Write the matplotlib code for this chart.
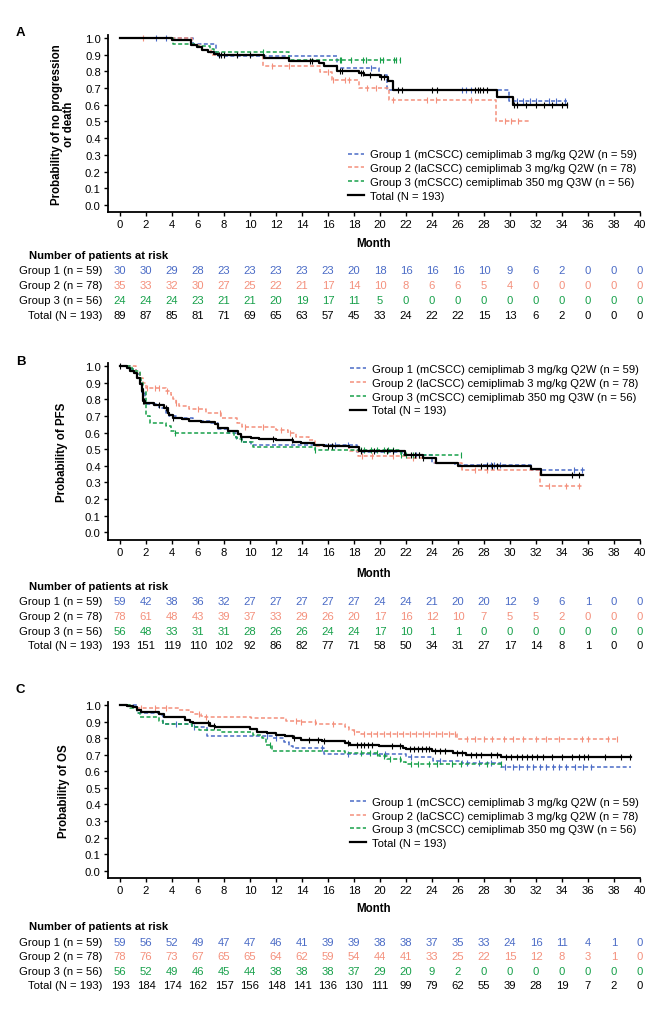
import numpy as np
import matplotlib
matplotlib.use("Agg")
import matplotlib.pyplot as plt
from matplotlib.transforms import blended_transform_factory
from matplotlib.lines import Line2D

plt.rcParams['font.family'] = ['Liberation Sans', 'DejaVu Sans']

W, H = 661, 1012
BLUE, RED, GREEN, BLACK = '#4a6bc6', '#f4907c', '#17a04a', '#000000'

months = list(range(0, 41, 2))
group_labels = ['Group 1 (n = 59)', 'Group 2 (n = 78)', 'Group 3 (n = 56)', 'Total (N = 193)']
legend_labels = ['Group 1 (mCSCC) cemiplimab 3 mg/kg Q2W (n = 59)',
                 'Group 2 (laCSCC) cemiplimab 3 mg/kg Q2W (n = 78)',
                 'Group 3 (mCSCC) cemiplimab 350 mg Q3W (n = 56)',
                 'Total (N = 193)']

# ---------------- Panel A: step times / survival / end / censor ----------------
a_g1_t = [5.6, 7.4, 16.7, 19.9, 20.5, 29.9]
a_g1_s = [0.964, 0.894, 0.818, 0.78, 0.69, 0.62]
a_g1_end = 34.4
a_g1_c = [2.8, 3.5, 19.3, 26.3, 26.6, 27.0, 30.2, 30.5, 31.0, 31.5, 32.0, 33.0, 33.5, 34.2]

a_g2_t = [5.5, 6.3, 7.0, 11.0, 15.4, 16.3, 18.4, 20.7, 28.9]
a_g2_s = [0.96, 0.93, 0.90, 0.834, 0.795, 0.75, 0.70, 0.627, 0.50]
a_g2_end = 31.5
a_g2_c = [1.8, 11.7, 13.0, 16.0, 16.4, 17.3, 17.6, 19.0, 19.7, 21.0, 23.6, 24.3, 27.0, 29.6, 30.1, 30.6]

a_g3_t = [4.1, 5.9, 6.9, 7.2, 13.0]
a_g3_s = [0.962, 0.954, 0.934, 0.918, 0.87]
a_g3_end = 21.6
a_g3_c = [11.0, 16.9, 17.0, 17.8, 18.7, 18.9, 20.0, 20.2, 21.1, 21.2, 21.5]

a_tot_t = [4.0, 5.45, 5.9, 6.3, 6.8, 7.2, 7.5, 11.1, 13.0, 15.3, 15.7, 16.7, 18.4, 18.8, 20.0, 20.6, 21.0, 29.0, 30.2]
a_tot_s = [0.988, 0.96, 0.945, 0.93, 0.915, 0.905, 0.897, 0.878, 0.864, 0.85, 0.835, 0.804, 0.79, 0.78, 0.765, 0.74, 0.69, 0.645, 0.60]
a_tot_end = 34.4
a_tot_c = [7.6, 7.8, 8.0, 9.0, 10.0, 14.6, 14.8, 16.9, 17.1, 18.5, 18.7, 19.2, 20.1, 20.3, 21.4, 21.7, 24.0, 24.4,
           27.3, 27.5, 27.7, 27.9, 28.2, 30.3, 30.5, 31.2, 32.0, 32.6, 33.2, 34.0, 34.4]

a_risk_g1 = [30, 30, 29, 28, 23, 23, 23, 23, 23, 20, 18, 16, 16, 16, 10, 9, 6, 2, 0, 0, 0]
a_risk_g2 = [35, 33, 32, 30, 27, 25, 22, 21, 17, 14, 10, 8, 6, 6, 5, 4, 0, 0, 0, 0, 0]
a_risk_g3 = [24, 24, 24, 23, 21, 21, 20, 19, 17, 11, 5, 0, 0, 0, 0, 0, 0, 0, 0, 0, 0]
a_risk_tot = [89, 87, 85, 81, 71, 69, 65, 63, 57, 45, 33, 24, 22, 22, 15, 13, 6, 2, 0, 0, 0]

# ---------------- Panel B ----------------
b_g1_t = [0.8, 1.2, 1.5, 1.7, 1.9, 3.0, 3.5, 3.8, 4.3, 5.6, 7.0, 7.5, 8.3, 8.9, 9.4, 10.1, 18.2, 21.7, 24.0, 25.8, 31.6]
b_g1_s = [0.98, 0.95, 0.90, 0.84, 0.77, 0.75, 0.72, 0.70, 0.685, 0.67, 0.66, 0.62, 0.60, 0.57, 0.545, 0.525, 0.485, 0.465, 0.415, 0.405, 0.375]
b_g1_end = 35.8
b_g1_c = [9.3, 16.5, 17.5, 22.8, 28.2, 28.5, 28.8, 29.2, 34.9, 35.5]

b_g2_t = [1.2, 1.5, 1.8, 2.0, 3.5, 3.9, 4.1, 4.3, 4.5, 5.3, 6.6, 7.8, 9.0, 9.4, 12.0, 12.9, 13.5, 14.5, 15.0, 17.6, 18.3, 22.0, 24.2, 26.3, 32.3]
b_g2_s = [0.96, 0.93, 0.90, 0.87, 0.85, 0.825, 0.80, 0.78, 0.76, 0.74, 0.72, 0.69, 0.66, 0.635, 0.615, 0.60, 0.575, 0.555, 0.52, 0.49, 0.46, 0.445, 0.415, 0.375, 0.28]
b_g2_end = 35.5
b_g2_c = [2.1, 2.7, 3.0, 3.6, 4.3, 6.0, 7.7, 9.6, 11.0, 12.4, 13.1, 18.6, 19.4, 21.0, 22.5, 27.3, 28.2, 33.0, 34.3, 35.3]

b_g3_t = [0.9, 1.0, 1.5, 1.6, 1.8, 2.0, 2.3, 3.5, 3.9, 4.2, 8.8, 9.0, 9.4, 10.2, 15.0, 21.6]
b_g3_s = [0.98, 0.97, 0.93, 0.90, 0.85, 0.70, 0.655, 0.64, 0.61, 0.595, 0.575, 0.56, 0.54, 0.515, 0.495, 0.466]
b_g3_end = 26.2
b_g3_c = [4.2, 9.3, 15.0, 18.5, 18.8, 19.3, 19.8, 20.3, 20.6, 21.0, 21.6, 22.0, 22.5, 23.0, 26.2]

b_tot_t = [0.56, 0.8, 1.05, 1.3, 1.56, 1.7, 1.8, 1.95, 2.6, 3.4, 3.7, 3.8, 4.1, 4.75, 5.3, 6.2, 7.3, 7.5, 8.3, 9.1, 9.3,
           10.1, 10.7, 12.0, 13.3, 13.9, 14.9, 15.7, 17.6, 18.4, 21.9, 23.3, 24.3, 26.0, 31.6, 32.4]
b_tot_s = [0.99, 0.97, 0.96, 0.93, 0.89, 0.85, 0.79, 0.78, 0.765, 0.745, 0.72, 0.706, 0.69, 0.68, 0.67, 0.662, 0.65, 0.63,
           0.61, 0.59, 0.575, 0.566, 0.56, 0.553, 0.545, 0.535, 0.525, 0.52, 0.51, 0.486, 0.466, 0.446, 0.417, 0.40, 0.38, 0.345]
b_tot_end = 35.6
b_tot_c = [0.0, 1.7, 1.75, 1.8, 1.85, 3.0, 3.5, 4.1, 9.3, 11.8, 13.2, 16.0, 16.3, 18.5, 19.5, 20.5, 21.0, 22.4, 22.7,
           23.0, 23.3, 27.8, 28.2, 28.6, 29.0, 34.8, 35.3]

b_risk_g1 = [59, 42, 38, 36, 32, 27, 27, 27, 27, 27, 24, 24, 21, 20, 20, 12, 9, 6, 1, 0, 0]
b_risk_g2 = [78, 61, 48, 43, 39, 37, 33, 29, 26, 20, 17, 16, 12, 10, 7, 5, 5, 2, 0, 0, 0]
b_risk_g3 = [56, 48, 33, 31, 31, 28, 26, 26, 24, 24, 17, 10, 1, 1, 0, 0, 0, 0, 0, 0, 0]
b_risk_tot = [193, 151, 119, 110, 102, 92, 86, 82, 77, 71, 58, 50, 34, 31, 27, 17, 14, 8, 1, 0, 0]

# ---------------- Panel C ----------------
c_g1_t = [1.3, 3.0, 3.3, 5.5, 6.7, 11.8, 12.6, 13.0, 13.3, 15.7, 22.0, 24.1, 26.3, 29.3]
c_g1_s = [0.952, 0.94, 0.886, 0.865, 0.81, 0.80, 0.775, 0.755, 0.74, 0.705, 0.685, 0.665, 0.65, 0.625]
c_g1_end = 39.3
c_g1_c = [4.3, 5.7, 11.3, 12.0, 15.5, 17.5, 20.4, 22.4, 24.6, 26.7, 27.6, 28.5, 29.6, 30.2, 30.7, 31.3, 31.8,
          32.3, 32.8, 33.3, 33.8, 34.3, 35.0, 35.6, 36.2]

c_g2_t = [0.8, 1.2, 4.5, 5.3, 5.6, 6.2, 6.5, 10.1, 12.8, 13.9, 15.1, 17.3, 17.6, 18.0, 18.5, 25.9]
c_g2_s = [0.99, 0.98, 0.97, 0.955, 0.945, 0.935, 0.93, 0.92, 0.905, 0.895, 0.888, 0.87, 0.85, 0.84, 0.825, 0.795]
c_g2_end = 38.2
c_g2_c = [1.6, 2.7, 3.5, 6.1, 6.6, 13.5, 13.9, 15.0, 16.4, 18.0, 18.8, 19.3, 19.8, 20.3, 20.8, 21.3, 21.8, 22.3,
          22.8, 23.3, 23.8, 24.3, 24.8, 25.3, 25.8, 26.7, 27.3, 28.0, 28.6, 29.5, 30.2, 31.0, 32.0, 32.8, 33.8,
          35.5, 36.0, 37.5, 38.2]

c_g3_t = [0.8, 1.3, 1.5, 3.0, 3.3, 5.5, 6.1, 7.8, 10.2, 10.9, 11.2, 11.7, 17.3, 19.9, 20.5, 21.6, 22.0]
c_g3_s = [0.98, 0.95, 0.925, 0.905, 0.885, 0.865, 0.85, 0.835, 0.82, 0.80, 0.76, 0.725, 0.71, 0.69, 0.675, 0.655, 0.645]
c_g3_end = 29.3
c_g3_c = [11.5, 18.5, 19.2, 19.8, 20.3, 20.8, 21.5, 22.4, 22.9, 23.8, 24.4, 25.5, 26.2, 28.2, 29.3]

c_tot_t = [0.5, 1.0, 1.3, 1.6, 2.0, 3.0, 3.4, 3.5, 5.0, 5.4, 5.6, 6.9, 7.3, 10.0, 10.5, 11.3, 12.0, 12.7, 13.3, 13.9,
           15.5, 17.3, 17.7, 19.9, 21.8, 22.0, 24.0, 25.6, 26.6, 29.3]
c_tot_s = [0.995, 0.99, 0.97, 0.96, 0.955, 0.945, 0.93, 0.925, 0.91, 0.90, 0.89, 0.875, 0.865, 0.855, 0.84, 0.83, 0.82,
           0.81, 0.80, 0.79, 0.78, 0.77, 0.76, 0.75, 0.74, 0.735, 0.72, 0.71, 0.70, 0.685]
c_tot_end = 39.3
c_tot_c = [6.8, 7.2, 13.4, 14.5, 15.2, 15.7, 17.5, 18.2, 18.5, 18.8, 19.1, 19.4, 20.9, 21.5, 22.3, 22.6, 22.9, 23.2,
           23.5, 23.8, 24.2, 24.6, 25.0, 25.9, 26.3, 27.0, 27.4, 27.8, 28.5, 29.0, 29.7, 30.1, 30.5, 30.9, 31.3,
           31.7, 32.1, 32.5, 33.2, 34.0, 34.8, 35.3, 35.7, 36.0, 37.3, 38.5, 39.2]

c_risk_g1 = [59, 56, 52, 49, 47, 47, 46, 41, 39, 39, 38, 38, 37, 35, 33, 24, 16, 11, 4, 1, 0]
c_risk_g2 = [78, 76, 73, 67, 65, 65, 64, 62, 59, 54, 44, 41, 33, 25, 22, 15, 12, 8, 3, 1, 0]
c_risk_g3 = [56, 52, 49, 46, 45, 44, 38, 38, 38, 37, 29, 20, 9, 2, 0, 0, 0, 0, 0, 0, 0]
c_risk_tot = [193, 184, 174, 162, 157, 156, 148, 141, 136, 130, 111, 99, 79, 62, 55, 39, 28, 19, 7, 2, 0]

ylabels = ['Probability of no progression\nor death', 'Probability of PFS', 'Probability of OS']

# ---------------- layout (pixels) ----------------
FS = 8.1
AX_L, AX_R = 107.7, 640.0


def fx(px):
    return px / W


def fy(py):
    return 1 - py / H


fig = plt.figure(figsize=(W / 100, H / 100), dpi=100)


def draw_panel(top, bottom, curves, risks, ylabel, letter, letter_y, ylab_x,
               leg_x, leg_top, xlab_y, head_y, rows_y):
    ax = fig.add_axes([fx(AX_L), fy(bottom), fx(AX_R) - fx(AX_L), (bottom - top) / H])
    for (t, s, end, c, col, ls, lw) in curves:
        tt = np.array([0.0] + list(t) + [end])
        ss = np.array([1.0] + list(s) + [s[-1]])
        ax.step(tt, ss, where='post', color=col, linestyle=ls, linewidth=lw, zorder=3 if col == BLACK else 2)
        cc = np.array(c, dtype=float)
        idx = np.searchsorted(tt, cc, side='right') - 1
        idx = np.clip(idx, 0, len(ss) - 1)
        ax.plot(cc, ss[idx], linestyle='none', marker='|', markersize=5, markeredgewidth=0.8,
                color=col, zorder=4 if col == BLACK else 2)
    ax.set_xlim(-0.95, 40)
    ax.set_ylim(-0.044, 1.02)
    ax.set_xticks(months)
    ax.set_yticks(np.arange(0, 1.01, 0.1))
    ax.set_yticklabels([f'{v:.1f}' for v in np.arange(0, 1.01, 0.1)])
    ax.spines['top'].set_visible(False)
    ax.spines['right'].set_visible(False)
    for sp in ('left', 'bottom'):
        ax.spines[sp].set_linewidth(1.3)
    ax.tick_params(axis='both', labelsize=FS, length=3, width=1.0, pad=2)
    handles = [Line2D([], [], color=cv[4], linestyle=cv[5], linewidth=cv[6]) for cv in curves]
    ax.legend(handles, legend_labels, loc='upper left', bbox_to_anchor=(fx(leg_x), fy(leg_top)),
              bbox_transform=fig.transFigure, frameon=False, fontsize=FS, borderpad=0, borderaxespad=0,
              handlelength=1.45, handletextpad=0.55, labelspacing=0.33)
    fig.text(fx(16), fy(letter_y), letter, fontsize=9.5, fontweight='bold', ha='left', va='center')
    fig.text(fx(ylab_x), fy((top + bottom) / 2), ylabel, rotation=90, fontsize=FS + 0.2, fontweight='bold',
             ha='center', va='center', multialignment='center', linespacing=1.1)
    fig.text(fx((AX_L + AX_R) / 2), fy(xlab_y), 'Month', fontsize=FS + 0.2, fontweight='bold',
             ha='center', va='center')
    fig.text(fx(28.7), fy(head_y), 'Number of patients at risk', fontsize=FS, fontweight='bold',
             ha='left', va='center')
    tr = blended_transform_factory(ax.transData, fig.transFigure)
    cols = [BLUE, RED, GREEN, BLACK]
    for lab, vals, col, ry in zip(group_labels, risks, cols, rows_y):
        fig.text(fx(102.4), fy(ry), lab, fontsize=FS, ha='right', va='center')
        for m, v in zip(months, vals):
            ax.text(m, fy(ry), str(v), transform=tr, fontsize=FS, color=col, ha='center', va='center',
                    clip_on=False)
    return ax


DASH = (0, (2.6, 1.6))
curves_a = [(a_g1_t, a_g1_s, a_g1_end, a_g1_c, BLUE, DASH, 1.1),
            (a_g2_t, a_g2_s, a_g2_end, a_g2_c, RED, DASH, 1.1),
            (a_g3_t, a_g3_s, a_g3_end, a_g3_c, GREEN, DASH, 1.1),
            (a_tot_t, a_tot_s, a_tot_end, a_tot_c, BLACK, '-', 1.6)]
curves_b = [(b_g1_t, b_g1_s, b_g1_end, b_g1_c, BLUE, DASH, 1.1),
            (b_g2_t, b_g2_s, b_g2_end, b_g2_c, RED, DASH, 1.1),
            (b_g3_t, b_g3_s, b_g3_end, b_g3_c, GREEN, DASH, 1.1),
            (b_tot_t, b_tot_s, b_tot_end, b_tot_c, BLACK, '-', 1.6)]
curves_c = [(c_g1_t, c_g1_s, c_g1_end, c_g1_c, BLUE, DASH, 1.1),
            (c_g2_t, c_g2_s, c_g2_end, c_g2_c, RED, DASH, 1.1),
            (c_g3_t, c_g3_s, c_g3_end, c_g3_c, GREEN, DASH, 1.1),
            (c_tot_t, c_tot_s, c_tot_end, c_tot_c, BLACK, '-', 1.6)]

draw_panel(35.7, 213.3, curves_a, [a_risk_g1, a_risk_g2, a_risk_g3, a_risk_tot], ylabels[0], 'A', 33.3, 63,
           348, 150.5, 244.3, 256, [270.7, 285.7, 301.3, 316])
draw_panel(363.6, 540.7, curves_b, [b_risk_g1, b_risk_g2, b_risk_g3, b_risk_tot], ylabels[1], 'B', 361.7, 62.4,
           350, 365.3, 574, 586.7, [601.7, 616.7, 631.7, 645.7])
draw_panel(702.7, 879.0, curves_c, [c_risk_g1, c_risk_g2, c_risk_g3, c_risk_tot], ylabels[2], 'C', 690, 64,
           350, 798, 909.3, 926.7, [942.7, 957.3, 972, 986])

fig.savefig('out.png', dpi=100)
